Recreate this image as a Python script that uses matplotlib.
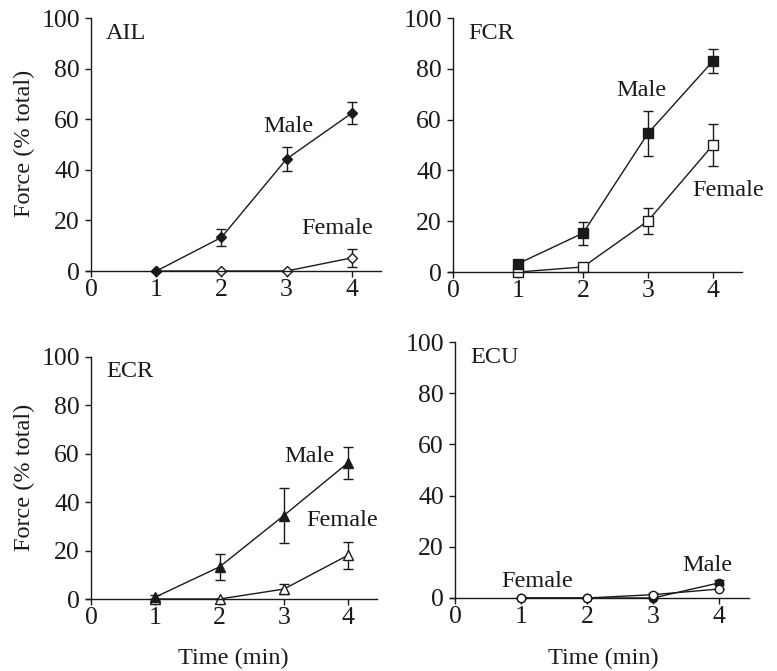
import numpy as np
import matplotlib.pyplot as plt

plt.rcParams['font.family'] = ['Liberation Serif', 'DejaVu Serif']
plt.rcParams['font.size'] = 17

time = [1, 2, 3, 4]

# AIL
ail_male = [0, 13.3, 44.3, 62.4]
ail_male_err = [0, 3.4, 4.7, 4.3]
ail_female = [0, 0, 0, 5.2]
ail_female_err = [0, 0, 0, 3.5]

# FCR
fcr_male = [3.3, 15.3, 54.6, 83.0]
fcr_male_err = [1.5, 4.5, 8.8, 4.7]
fcr_female = [0, 2.0, 20.1, 50.0]
fcr_female_err = [0, 0, 5.3, 8.2]

# ECR
ecr_male = [0.8, 13.3, 34.5, 56.3]
ecr_male_err = [1.0, 5.3, 11.3, 6.7]
ecr_female = [0, 0, 4.1, 18.1]
ecr_female_err = [0, 0, 2.2, 5.5]

# ECU
ecu_male = [0, 0, 0, 5.9]
ecu_male_err = [0, 0, 0, 1.0]
ecu_female = [0, 0, 1.3, 3.5]
ecu_female_err = [0, 0, 0.8, 0]

ink = '#1a1a1a'

fig = plt.figure(figsize=(7.77, 6.71), dpi=100)

boxes = {
    'AIL': [0.1107, 0.5961, 0.3797, 0.3770],
    'FCR': [0.5766, 0.5946, 0.3784, 0.3785],
    'ECR': [0.1107, 0.1073, 0.3745, 0.3607],
    'ECU': [0.5788, 0.1088, 0.3848, 0.3815],
}

panels = [
    ('AIL', 'D', 5.5, ail_male, ail_male_err, ail_female, ail_female_err,
     (3.02, 57), (3.77, 17)),
    ('FCR', 's', 6.5, fcr_male, fcr_male_err, fcr_female, fcr_female_err,
     (2.9, 71.6), (4.23, 32)),
    ('ECR', '^', 7, ecr_male, ecr_male_err, ecr_female, ecr_female_err,
     (3.39, 58.7), (3.91, 32.6)),
    ('ECU', 'o', 6, ecu_male, ecu_male_err, ecu_female, ecu_female_err,
     (3.83, 12.5), (1.24, 6.6)),
]

for name, mk, ms, m, me, f, fe, mpos, fpos in panels:
    ax = fig.add_axes(boxes[name])
    ax.errorbar(time, m, yerr=me, fmt='-', marker=mk, ms=ms, color=ink,
                mfc=ink, mec=ink, lw=1, elinewidth=1, capsize=3.5,
                capthick=1, clip_on=False, zorder=3)
    ax.errorbar(time, f, yerr=fe, fmt='-', marker=mk, ms=ms, color=ink,
                mfc='white', mec=ink, mew=1, lw=1, elinewidth=1,
                capsize=3.5, capthick=1, clip_on=False,
                zorder=4 if name == 'ECU' else 2)
    ax.set_xlim(-0.08, 4.45)
    ax.set_ylim(0, 100)
    ax.spines['left'].set_position(('data', 0))
    ax.spines['top'].set_visible(False)
    ax.spines['right'].set_visible(False)
    for s in ('left', 'bottom'):
        ax.spines[s].set_color(ink)
        ax.spines[s].set_linewidth(1)
    ax.set_xticks([0, 1, 2, 3, 4])
    ax.set_yticks([0, 20, 40, 60, 80, 100])
    ax.tick_params(direction='out', length=4, width=1, color=ink,
                   labelcolor=ink, labelsize=18.5)
    ax.tick_params(axis='x', pad=2)
    ax.tick_params(axis='y', pad=4)
    ax.text(0.23, 94, name, ha='left', va='center', color=ink, fontsize=17.5)
    ax.text(mpos[0], mpos[1], 'Male', ha='center', va='center', color=ink,
            fontsize=17.5)
    ax.text(fpos[0], fpos[1], 'Female', ha='center', va='center', color=ink,
            fontsize=17.5)

fig.text(0.032, 0.787, 'Force (% total)', rotation=90, ha='center',
         va='center', color=ink, fontsize=17.5)
fig.text(0.032, 0.289, 'Force (% total)', rotation=90, ha='center',
         va='center', color=ink, fontsize=17.5)
fig.text(0.300, 0.018, 'Time (min)', ha='center', va='center', color=ink,
         fontsize=17.5)
fig.text(0.776, 0.018, 'Time (min)', ha='center', va='center', color=ink,
         fontsize=17.5)

fig.savefig('out.png', dpi=100)
